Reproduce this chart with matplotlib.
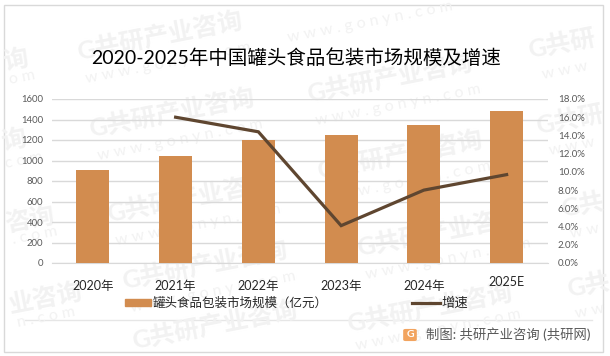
import matplotlib
matplotlib.use("Agg")
import matplotlib.pyplot as plt
from matplotlib.patches import Rectangle, FancyBboxPatch
from matplotlib.lines import Line2D
from matplotlib.transforms import ScaledTranslation

plt.rcParams['font.family'] = ['Lato', 'Noto Sans CJK SC', 'DejaVu Sans']

W, H = 610, 356

# data
years = ["2020年", "2021年", "2022年", "2023年", "2024年", "2025E"]
market_size = [905, 1045, 1200, 1250, 1346, 1483]
growth = [None, 16.0, 14.4, 4.1, 8.0, 9.7]
size_ticks = [0, 200, 400, 600, 800, 1000, 1200, 1400, 1600]
growth_ticks = [0, 2, 4, 6, 8, 10, 12, 14, 16, 18]

title = "2020-2025年中国罐头食品包装市场规模及增速"
bar_name = "罐头食品包装市场规模（亿元）"
line_name = "增速"
source = "制图: 共研产业咨询 (共研网)"

# watermark pieces, in pixels of the picture; near the edges only what fits
wm_names = [(160, 36, "G共研产业咨询"), (172, 113, "G共研产业咨询"), (390, 78, "G共研产业咨询"),
            (400, 155, "G共研产业咨询"), (190, 198, "G共研产业咨询"), (205, 265, "G共研产业咨询"),
            (215, 325, "G共研产业咨询"), (430, 308, "G共研产业咨询"), (440, 232, "G共研产业咨询"),
            (562, 44, "G共研"), (570, 120, "G共研"), (582, 205, "G共"), (588, 285, "G共"),
            (16, 60, "询"), (14, 140, "询"), (30, 220, "咨询"), (46, 298, "业咨询")]
wm_sites = [(168, 63), (180, 140), (398, 105), (408, 182), (198, 225), (213, 292),
            (438, 330), (448, 259), (370, 22)]
wm_ends = [(565, 71, "w w w"), (572, 147, "w w w"), (585, 231, "w w"), (590, 311, "w w"),
           (22, 78, "o m"), (24, 160, "c o m"), (35, 236, ". c o m"), (46, 317, "n . c o m")]

BAR_COLOR = "#D28C4F"
LINE_COLOR = "#5F4630"
GRID_COLOR = "#D9D9D9"
FRAME_COLOR = "#D9D9D9"
WM_COLOR = "#F2F2F2"


def px(x, y):
    return x / W, 1 - y / H


fig = plt.figure(figsize=(W / 100, H / 100), dpi=100, facecolor="white")

# frame and footer rule
fig.add_artist(Rectangle(px(4, 352), 599 / W, 347.5 / H, transform=fig.transFigure,
                         fill=False, edgecolor=FRAME_COLOR, linewidth=1, zorder=-5))
fig.add_artist(Line2D([25 / W, 592 / W], [1 - 320 / H, 1 - 320 / H], transform=fig.transFigure,
                      color="#E6E6E6", linewidth=1, zorder=-5))

# watermark
for x, y, s in wm_names:
    fig.text(*px(x, y), s, color=WM_COLOR, fontsize=18, fontweight="bold",
             rotation=11, ha="center", va="center", rotation_mode="anchor", zorder=-4)
for x, y in wm_sites:
    fig.text(*px(x, y), "w w w . g o n y n . c o m", color=WM_COLOR, fontsize=11.5,
             rotation=11, ha="center", va="center", rotation_mode="anchor", zorder=-4)
for x, y, s in wm_ends:
    fig.text(*px(x, y), s, color=WM_COLOR, fontsize=11.5,
             rotation=11, ha="center", va="center", rotation_mode="anchor", zorder=-4)

ax = fig.add_axes([51.5 / W, 1 - 263 / H, 496.5 / W, 164 / H])
ax.patch.set_alpha(0)
ax.bar(years, market_size, width=0.4, color=BAR_COLOR, zorder=3)
ax.set_xlim(-0.5, 5.5)
ax.set_ylim(0, 1600)
ax.set_yticks(size_ticks)
ax.yaxis.grid(True, color=GRID_COLOR, linewidth=1)
ax.set_axisbelow(True)
for s in ["top", "left", "right"]:
    ax.spines[s].set_visible(False)
ax.spines["bottom"].set_color(GRID_COLOR)
ax.tick_params(axis="y", length=0, labelsize=6.9, labelcolor="#595959", pad=6)
ax.tick_params(axis="x", length=0, labelsize=9, labelcolor="#262626", pad=12)

# 2025E sits a little higher than the others
xlabels = ax.get_xticklabels()
xlabels[-1].set_transform(xlabels[-1].get_transform()
                          + ScaledTranslation(0, 4 / 100, fig.dpi_scale_trans))

ax2 = ax.twinx()
ax2.patch.set_alpha(0)
ax2.plot(years[1:], growth[1:], color=LINE_COLOR, linewidth=2.3, zorder=4,
         solid_joinstyle="miter")
ax2.set_ylim(0, 18)
ax2.set_yticks(growth_ticks)
ax2.set_yticklabels([f"{v:.1f}%" for v in growth_ticks])
for s in ax2.spines.values():
    s.set_visible(False)
ax2.tick_params(axis="y", length=0, labelsize=7, labelcolor="#595959", pad=7)

fig.text(*px(296.5, 58), title, fontsize=14, color="black", ha="center", va="center")

# legend
fig.add_artist(Rectangle(px(125, 306), 26 / W, 7 / H, transform=fig.transFigure,
                         color=BAR_COLOR))
fig.text(*px(153, 302.5), bar_name, fontsize=9, color="#262626", ha="left", va="center")
fig.add_artist(Line2D([412 / W, 440 / W], [1 - 302.5 / H] * 2, transform=fig.transFigure,
                      color=LINE_COLOR, linewidth=2.3))
fig.text(*px(441, 302.5), line_name, fontsize=9.6, color="#262626", ha="left", va="center")

# footer logo and source
fig.add_artist(FancyBboxPatch(px(405, 340), 10 / W, 10 / H, transform=fig.transFigure,
                              boxstyle="round,pad=0.003,rounding_size=0.004",
                              facecolor="#F2A45F", edgecolor="none"))
fig.text(*px(410, 334.5), "G", fontsize=7.5, fontweight="bold", color="white",
         ha="center", va="center")
fig.text(*px(426, 334), source, fontsize=9.6, fontweight="medium", color="#595959",
         ha="left", va="center")

fig.savefig("out.png", dpi=100)
